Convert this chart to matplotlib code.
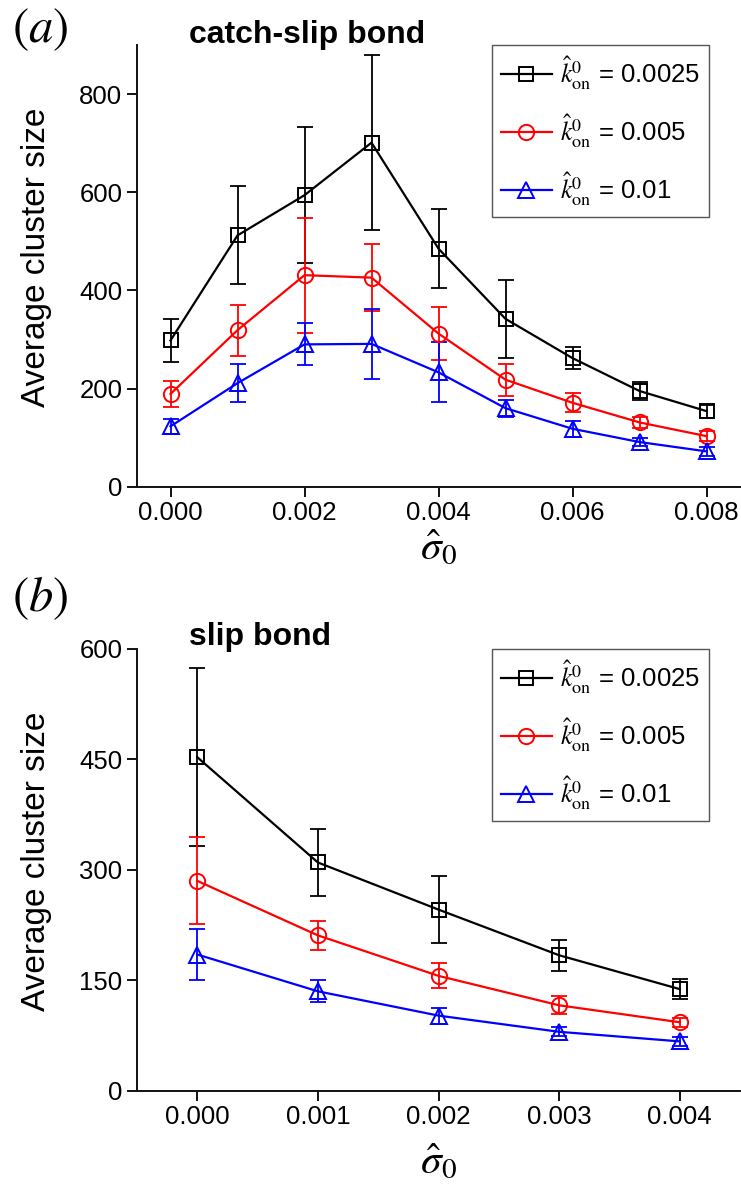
import matplotlib
matplotlib.use("Agg")
import matplotlib.pyplot as plt

plt.rcParams['font.family'] = ['Liberation Sans', 'DejaVu Sans']
plt.rcParams['mathtext.fontset'] = 'stix'

# ---- data: panel (a) catch-slip bond ----
x_a = [0.000, 0.001, 0.002, 0.003, 0.004, 0.005, 0.006, 0.007, 0.008]
a_k0025 = [298, 512, 594, 701, 485, 342, 262, 195, 154]
a_k0025_err = [43, 100, 139, 178, 81, 79, 22, 18, 13]
a_k005 = [189, 319, 431, 426, 312, 218, 171, 131, 103]
a_k005_err = [27, 52, 117, 68, 54, 33, 19, 12, 10]
a_k01 = [123, 211, 290, 291, 233, 160, 118, 91, 72]
a_k01_err = [15, 38, 43, 71, 61, 17, 16, 9, 9]

# ---- data: panel (b) slip bond ----
x_b = [0.000, 0.001, 0.002, 0.003, 0.004]
b_k0025 = [453, 310, 246, 184, 138]
b_k0025_err = [121, 46, 46, 21, 14]
b_k005 = [285, 211, 156, 116, 93]
b_k005_err = [59, 20, 17, 12, 6]
b_k01 = [185, 135, 102, 80, 67]
b_k01_err = [34, 15, 11, 6, 6]

labels = [r'$\hat{k}^{0}_{\mathrm{on}}$ = 0.0025',
          r'$\hat{k}^{0}_{\mathrm{on}}$ = 0.005',
          r'$\hat{k}^{0}_{\mathrm{on}}$ = 0.01']
colors = ['#000000', '#ff0000', '#0000ff']
markers = ['s', 'o', '^']
msizes = [10, 11, 12]

W, H = 741, 1192
fig = plt.figure(figsize=(W / 100, H / 100), dpi=100)

ax_a = fig.add_axes([137 / W, 1 - 486.7 / H, 603 / W, 441.7 / H])
ax_b = fig.add_axes([137 / W, 1 - 1090.7 / H, 603 / W, 441.7 / H])


def draw(ax, x, series, errs, xlim, ylim, xticks, yticks, title, title_y, xlab_y):
    handles = []
    for y, e, c, m, ms, lab in zip(series, errs, colors, markers, msizes, labels):
        ax.errorbar(x, y, yerr=e, fmt='none', ecolor=c, elinewidth=1.3,
                    capsize=5.5, capthick=1.3, zorder=2)
        ln, = ax.plot(x, y, color=c, lw=1.6, marker=m, ms=ms, mfc='none',
                      mec=c, mew=1.4, label=lab, zorder=3)
        handles.append(ln)
    ax.set_xlim(*xlim)
    ax.set_ylim(*ylim)
    ax.set_xticks(xticks)
    ax.set_xticklabels(['%.3f' % t for t in xticks])
    ax.set_yticks(yticks)
    ax.set_yticklabels([str(t) for t in yticks])
    for s in ['top', 'right']:
        ax.spines[s].set_visible(False)
    for s in ['left', 'bottom']:
        ax.spines[s].set_linewidth(1.4)
        ax.spines[s].set_color('#111111')
    ax.tick_params(direction='out', length=7, width=1.4, labelsize=18.5,
                   pad=3.5, color='#111111')
    ax.text(-0.167, 0.52, 'Average cluster size', transform=ax.transAxes,
            rotation=90, ha='center', va='center', fontsize=24)
    ax.text(0.5, xlab_y, r'$\hat{\sigma}_0$', transform=ax.transAxes,
            ha='center', va='center', fontsize=30)
    ax.text(0.086, title_y, title, transform=ax.transAxes, ha='left',
            va='baseline', fontsize=23, fontweight='bold')
    leg = ax.legend(handles=handles, loc='upper right',
                    bbox_to_anchor=((709 - 137) / 603, 1.0),
                    bbox_transform=ax.transAxes,
                    fontsize=18.5, frameon=True, fancybox=False,
                    edgecolor='#555555', framealpha=1, handlelength=2.0,
                    handletextpad=0.3, labelspacing=0.78, borderpad=0.35,
                    borderaxespad=0)
    leg.get_frame().set_linewidth(1.0)
    return leg


draw(ax_a, x_a, [a_k0025, a_k005, a_k01],
     [a_k0025_err, a_k005_err, a_k01_err],
     (-0.0005, 0.0085), (0, 900),
     [0.000, 0.002, 0.004, 0.006, 0.008], [0, 200, 400, 600, 800],
     'catch-slip bond', 1.005, -0.14)
draw(ax_b, x_b, [b_k0025, b_k005, b_k01],
     [b_k0025_err, b_k005_err, b_k01_err],
     (-0.0005, 0.0045), (0, 600),
     [0.000, 0.001, 0.002, 0.003, 0.004], [0, 150, 300, 450, 600],
     'slip bond', 1.009, -0.163)

fig.text(40 / W, 1 - 30 / H, r'$(a)$', ha='center', va='center', fontsize=35)
fig.text(40 / W, 1 - 598 / H, r'$(b)$', ha='center', va='center', fontsize=35)

fig.savefig('out.png', dpi=100)
